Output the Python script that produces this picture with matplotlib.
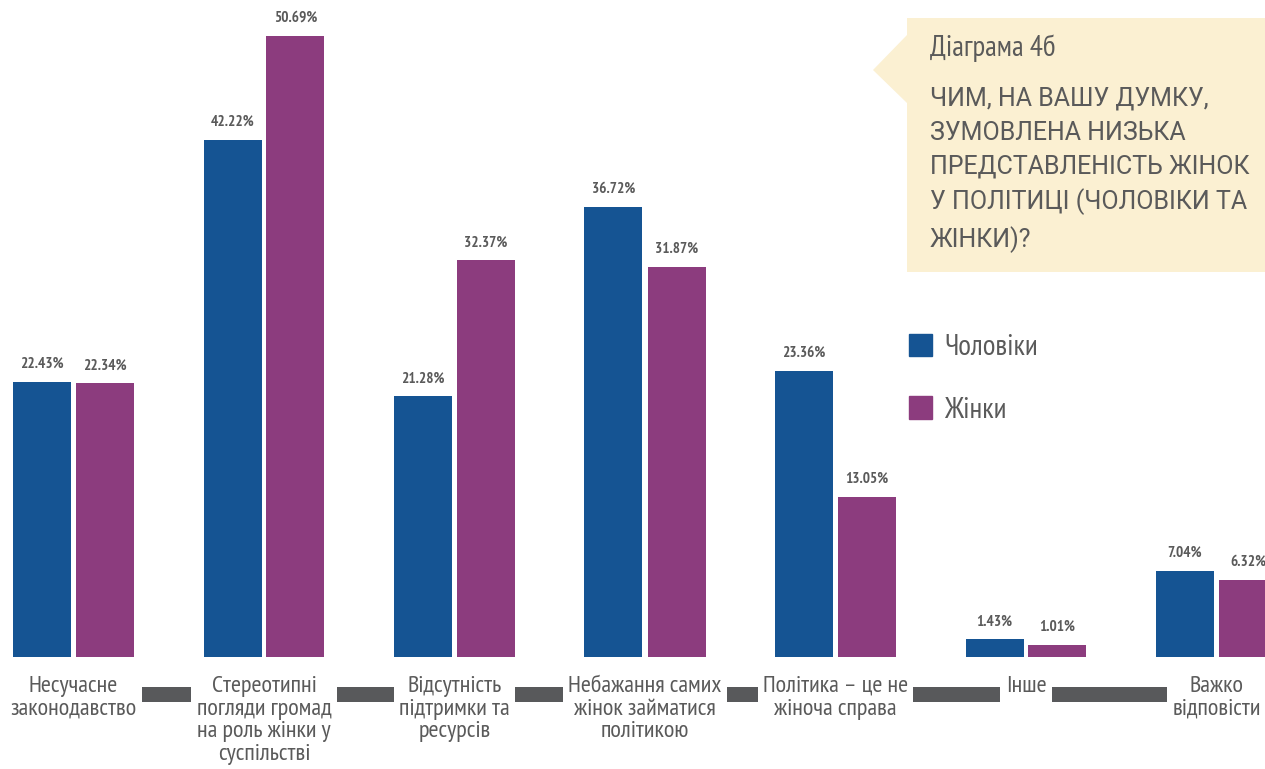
import matplotlib
matplotlib.use("Agg")
import matplotlib.pyplot as plt
from matplotlib import font_manager as fm
from matplotlib.patches import Polygon, Patch
import numpy as np

categories = [
    "Несучасне\nзаконодавство",
    "Стереотипні\nпогляди громад\nна роль жінки у\nсуспільстві",
    "Відсутність\nпідтримки та\nресурсів",
    "Небажання самих\nжінок займатися\nполітикою",
    "Політика – це не\nжіноча справа",
    "Інше",
    "Важко\nвідповісти",
]
men = [22.43, 42.22, 21.28, 36.72, 23.36, 1.43, 7.04]
women = [22.34, 50.69, 32.37, 31.87, 13.05, 1.01, 6.32]
series_names = ["Чоловіки", "Жінки"]
title_small = "Діаграма 4б"
title_big = "ЧИМ, НА ВАШУ ДУМКУ,\nЗУМОВЛЕНА НИЗЬКА\nПРЕДСТАВЛЕНІСТЬ ЖІНОК\nУ ПОЛІТИЦІ (ЧОЛОВІКИ ТА\nЖІНКИ)?"

BLUE = "#155493"
PURPLE = "#8c3c7e"
GRAY = "#5a5a5a"
AXIS_GRAY = "#58595b"
CREAM = "#fbf0d2"

names = {f.name for f in fm.fontManager.ttflist}
font = "DejaVu Sans"
stretch = "condensed"
for cand in ["PT Sans Narrow", "Roboto Condensed", "Open Sans Condensed", "Liberation Sans Narrow"]:
    if cand in names:
        font = cand
        stretch = "normal"
        break
plt.rcParams["font.family"] = [font, "DejaVu Sans"]
plt.rcParams["font.stretch"] = stretch
wide_font = "Roboto" if "Roboto" in names else "DejaVu Sans"

W, H = 1265, 769
fig = plt.figure(figsize=(W / 100, H / 100), dpi=100)
ax = fig.add_axes([0, 0, 1, 1])

spacing = 190.5
c0 = 73.5
base_px = 769 - 657
ppu = 12.25
ax.set_xlim(-c0 / spacing, (W - c0) / spacing)
ax.set_ylim(-base_px / ppu, (H - base_px) / ppu)
ax.axis("off")

x = np.arange(len(categories))
off = 31.5 / spacing
bw = 58 / spacing
ax.bar(x - off, men, width=bw, color=BLUE, label=series_names[0], zorder=2)
ax.bar(x + off, women, width=bw, color=PURPLE, label=series_names[1], zorder=2)

for xs, vals in ((x - off, men), (x + off, women)):
    for xi, v in zip(xs, vals):
        ax.annotate(f"{v:.2f}%", (xi, v), xytext=(0, 11), textcoords="offset pixels",
                    ha="center", va="bottom", fontsize=11, fontweight="bold", color=GRAY)

# thick axis band
y_axis = (769 - 693.5 - base_px) / ppu
ax.plot([(8 - c0) / spacing, (W - c0) / spacing], [y_axis, y_axis], color=AXIS_GRAY,
        lw=15 * 0.72, solid_capstyle="butt", zorder=1)

y_lab = (769 - 676 - base_px) / ppu
for xi, lab in zip(x, categories):
    ax.text(xi, y_lab, lab, ha="center", va="top", fontsize=17.5, color=GRAY,
            linespacing=1.1, zorder=3,
            bbox=dict(boxstyle="square,pad=0.22", fc="white", ec="none"))

# callout box
pts_px = [(907, 18), (1265, 18), (1265, 272), (907, 272), (907, 103), (873, 70), (907, 35)]
poly = Polygon([(px / W, 1 - py / H) for px, py in pts_px], closed=True,
               transform=fig.transFigure, fc=CREAM, ec="none", zorder=0)
fig.patches.append(poly)
fig.text(930 / W, 1 - 48 / H, title_small, ha="left", va="center", fontsize=21, color=GRAY)
fig.text(930 / W, 1 - 87 / H, title_big, ha="left", va="top", fontsize=18, color=GRAY,
         linespacing=1.5, family=[wide_font, "DejaVu Sans"], stretch="normal")

handles = [Patch(color=BLUE), Patch(color=PURPLE)]
fig.legend(handles, series_names, loc="upper left", bbox_to_anchor=(883 / W, 1 - 308 / H),
           frameon=False, fontsize=21, handlelength=0.79, handleheight=0.79,
           handletextpad=0.4, labelspacing=1.2, labelcolor=GRAY)

fig.savefig("out.png", dpi=100)
